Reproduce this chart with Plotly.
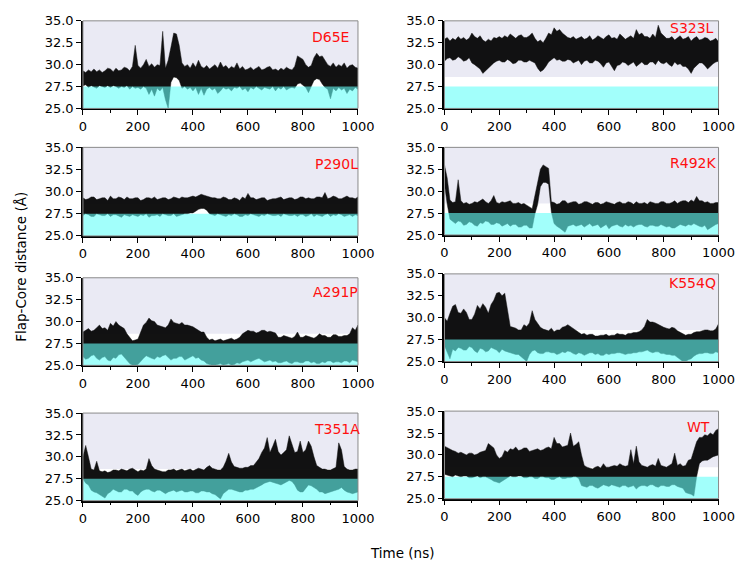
import plotly.graph_objects as go
from plotly.subplots import make_subplots

# ---- data (Flap-Core distance envelopes, sampled every 10 ns) ----
time_ns = list(range(0, 1001, 10))

d65e_hi = [29.3, 29.1, 29.4, 29.2, 29.5, 29.2, 29.4, 29.1, 29.3, 29.6,
           29.5, 29.2, 29.6, 29.3, 29.4, 29.7, 29.6, 29.3, 29.8, 32.2,
           29.9, 29.6, 30.0, 30.6, 29.8, 30.1, 29.7, 30.0, 29.9, 33.8,
           29.6, 30.5, 32.0, 33.6, 33.5, 32.2, 30.2, 29.8, 30.0, 29.6,
           30.2, 29.7, 30.5, 29.8, 29.6, 29.9, 29.5, 29.8, 30.0, 29.6,
           30.3, 29.7, 29.9, 29.5, 29.8, 29.6, 30.2, 29.5, 29.8, 29.4,
           29.5, 29.7, 29.4, 29.6, 29.8, 29.4, 29.5, 29.7, 29.8, 29.4,
           29.5, 29.3, 29.6, 29.4, 29.7, 29.5, 29.4, 29.8, 31.0, 30.8,
           30.6, 30.0, 29.7, 29.9, 30.8, 31.3, 30.9, 31.0, 30.5, 30.0,
           29.8, 30.2, 29.7, 30.0, 29.8, 30.2, 29.6, 29.9, 30.0, 29.7, 29.6]
d65e_lo = [27.6, 27.7, 27.4, 27.6, 27.5, 27.3, 27.6, 27.5, 27.4, 27.6,
           27.4, 27.6, 27.5, 27.3, 27.5, 27.4, 27.6, 27.2, 27.5, 27.3,
           27.4, 27.2, 27.5, 27.3, 26.6, 27.2, 26.4, 27.3, 27.0, 27.4,
           26.0, 25.0, 28.0, 28.6, 28.5, 28.2, 27.3, 27.5, 27.2, 27.4,
           27.0, 27.4, 26.6, 27.3, 26.5, 27.2, 27.4, 27.1, 27.3, 26.7,
           27.0, 27.4, 27.2, 27.3, 27.0, 27.4, 27.3, 27.5, 27.1, 27.3,
           26.9, 27.4, 27.2, 27.5, 27.3, 27.1, 27.4, 27.3, 27.2, 27.5,
           27.0, 27.4, 27.2, 27.5, 27.1, 27.3, 27.4, 27.3, 27.8, 27.9,
           27.6, 27.4, 26.8, 27.5, 28.2, 28.4, 28.3, 27.8, 27.4, 27.2,
           26.1, 27.3, 27.0, 27.4, 27.1, 27.3, 26.7, 27.2, 27.0, 27.4, 27.2]

s323l_hi = [32.9, 33.1, 32.7, 33.0, 32.8, 33.2, 32.9, 33.1, 32.8, 33.0,
            33.6, 33.2, 33.0, 33.3, 32.8, 32.6, 32.9, 32.7, 33.1, 33.0,
            33.2, 33.0, 33.3, 33.1, 33.5, 33.2, 33.0, 33.3, 33.4, 33.1,
            33.1, 33.3, 33.6, 33.0, 32.6, 32.8, 32.5, 33.0, 33.6, 33.4,
            34.2, 33.8, 34.0, 33.6, 33.3, 33.1, 33.0, 33.2, 32.9, 33.1,
            33.2, 32.9, 33.0, 33.3, 32.8, 33.0, 33.3, 33.1, 32.9, 33.2,
            33.4, 33.0, 33.1, 32.9, 33.5, 33.2, 32.9, 33.1, 33.3, 33.0,
            34.0, 33.4, 33.6, 33.2, 33.2, 33.0, 33.5, 33.1, 34.5, 33.6,
            33.3, 33.0, 33.0, 33.2, 32.8, 33.1, 33.3, 32.9, 33.0, 33.2,
            32.7, 33.0, 33.2, 32.8, 32.9, 33.1, 33.0, 32.7, 32.8, 33.0, 32.6]
s323l_lo = [30.4, 30.7, 30.8, 30.5, 30.6, 30.9, 30.7, 30.4, 30.5, 30.8,
            30.2, 30.0, 29.8, 29.5, 29.0, 29.3, 29.5, 29.9, 30.2, 30.4,
            30.5, 30.3, 30.3, 30.6, 30.4, 30.1, 30.2, 30.5, 30.5, 30.3,
            30.3, 30.5, 30.4, 30.2, 29.6, 29.2, 29.4, 29.8, 30.3, 30.6,
            30.8, 30.5, 30.6, 30.4, 30.4, 30.6, 30.5, 30.2, 30.3, 30.5,
            30.0, 30.4, 30.5, 30.2, 30.2, 30.5, 30.4, 30.1, 29.7, 30.2,
            30.3, 29.8, 29.3, 29.9, 30.0, 30.3, 30.2, 29.9, 30.1, 30.3,
            29.8, 30.1, 30.3, 30.0, 30.0, 30.3, 30.3, 30.0, 30.5, 30.2,
            30.1, 30.3, 30.0, 29.8, 30.3, 30.0, 30.1, 29.8, 29.8, 29.5,
            29.0, 29.6, 29.9, 30.2, 30.2, 29.9, 29.5, 29.8, 30.1, 30.3, 30.4]

p290l_hi = [29.3, 29.1, 29.2, 29.4, 29.4, 29.1, 29.2, 29.3, 29.3, 29.0,
            29.5, 29.2, 29.2, 29.4, 29.3, 29.1, 29.4, 29.2, 29.2, 29.3,
            29.3, 29.0, 29.1, 29.3, 29.3, 29.2, 29.4, 29.1, 29.2, 29.3,
            29.3, 29.1, 29.2, 29.4, 29.3, 29.2, 29.4, 29.3, 29.3, 29.4,
            29.5, 29.4, 29.6, 29.7, 29.6, 29.5, 29.4, 29.3, 29.3, 29.2,
            29.2, 29.4, 29.3, 29.1, 29.1, 29.3, 29.2, 29.0, 29.4, 29.2,
            29.8, 29.3, 29.3, 29.1, 29.2, 29.3, 29.3, 29.0, 29.1, 29.2,
            29.2, 29.3, 29.4, 29.1, 29.2, 29.3, 29.3, 29.1, 29.2, 29.4,
            29.4, 29.2, 29.3, 29.2, 29.2, 29.4, 29.4, 29.3, 29.9, 29.2,
            29.3, 29.5, 29.4, 29.2, 29.2, 29.4, 29.5, 29.3, 29.3, 29.2, 29.4]
p290l_lo = [27.3, 27.5, 27.4, 27.2, 27.2, 27.5, 27.4, 27.3, 27.3, 27.5,
            27.2, 27.4, 27.4, 27.3, 27.1, 27.4, 27.3, 27.2, 27.4, 27.3,
            27.2, 27.4, 27.3, 27.5, 27.1, 27.3, 27.3, 27.4, 27.2, 27.5,
            27.4, 27.3, 27.3, 27.5, 27.2, 27.3, 27.4, 27.5, 27.5, 27.6,
            27.6, 27.8, 28.0, 28.1, 28.1, 27.9, 27.5, 27.4, 27.3, 27.5,
            27.4, 27.3, 27.2, 27.4, 27.3, 27.5, 27.4, 27.2, 27.2, 27.4,
            27.3, 27.5, 27.4, 27.3, 27.2, 27.4, 27.3, 27.5, 27.4, 27.3,
            27.3, 27.4, 27.2, 27.5, 27.4, 27.3, 27.3, 27.4, 27.2, 27.4,
            27.4, 27.2, 27.3, 27.5, 27.2, 27.4, 27.3, 27.2, 27.4, 27.5,
            27.2, 27.4, 27.3, 27.5, 27.4, 27.2, 27.3, 27.4, 27.2, 27.4, 27.3]

r492k_hi = [33.0, 31.5, 29.0, 28.7, 28.8, 31.3, 28.9, 28.6, 28.7, 28.5,
            28.6, 28.8, 28.7, 28.9, 29.1, 28.8, 28.6, 28.9, 29.5, 28.7,
            28.6, 28.8, 28.7, 28.8, 28.9, 28.6, 28.6, 28.7, 28.5, 28.6,
            28.4, 28.2, 28.0, 29.5, 31.0, 32.5, 33.0, 32.8, 32.6, 28.8,
            28.7, 28.5, 28.6, 28.9, 28.9, 28.6, 28.7, 28.8, 28.8, 28.5,
            28.6, 28.8, 28.8, 28.6, 28.5, 28.7, 28.7, 28.5, 28.6, 28.8,
            28.7, 28.6, 28.5, 28.7, 28.8, 28.6, 28.6, 28.8, 28.7, 28.5,
            28.8, 28.6, 28.6, 28.7, 28.5, 28.8, 28.7, 28.6, 28.6, 28.8,
            28.8, 28.6, 28.6, 28.7, 28.9, 28.6, 28.8, 28.9, 28.9, 28.7,
            29.0, 28.8, 29.4, 28.9, 28.9, 28.7, 28.8, 28.6, 28.6, 28.7, 28.7]
r492k_lo = [30.8, 28.5, 26.8, 26.5, 26.3, 26.6, 26.5, 26.1, 26.2, 26.5,
            26.4, 26.1, 26.0, 26.4, 26.3, 26.6, 26.5, 26.2, 26.2, 26.4,
            26.3, 26.0, 26.1, 26.3, 26.0, 26.2, 26.2, 25.9, 25.9, 26.1,
            26.1, 25.8, 25.8, 27.4, 28.5, 30.5, 31.0, 31.0, 30.8, 27.6,
            26.3, 26.0, 25.8, 25.6, 25.3, 26.0, 26.1, 26.2, 26.0, 26.1,
            26.2, 25.9, 26.1, 26.3, 26.0, 26.1, 26.2, 25.8, 26.0, 26.2,
            25.7, 26.0, 26.1, 26.2, 26.0, 25.9, 26.2, 26.0, 26.1, 25.9,
            26.1, 26.2, 26.2, 26.0, 25.9, 26.1, 26.1, 26.0, 26.0, 26.2,
            26.1, 25.9, 26.0, 25.8, 25.8, 26.0, 26.2, 26.1, 26.0, 26.2,
            26.1, 26.3, 26.2, 26.0, 25.9, 26.1, 25.6, 25.8, 26.0, 26.2, 26.3]

a291p_hi = [28.8, 29.0, 29.2, 28.9, 29.0, 29.3, 29.6, 29.2, 29.3, 29.0,
            29.8, 29.5, 30.0, 29.6, 29.4, 29.2, 28.6, 28.2, 27.8, 27.9,
            28.0, 28.8, 29.6, 29.9, 30.4, 30.1, 30.0, 29.6, 29.5, 29.4,
            29.3, 29.6, 30.3, 29.9, 29.8, 29.7, 29.9, 29.6, 29.6, 29.5,
            29.4, 29.2, 29.0, 28.8, 28.8, 28.2, 27.9, 28.0, 27.8, 27.9,
            28.0, 27.8, 27.9, 28.0, 28.1, 27.9, 28.0, 28.2, 28.6, 28.8,
            29.0, 28.9, 28.9, 28.7, 28.8, 29.0, 29.0, 28.8, 28.9, 28.8,
            28.7, 28.2, 28.2, 28.4, 28.3, 28.2, 28.1, 28.3, 28.8, 28.2,
            28.2, 28.4, 28.3, 28.2, 28.1, 28.3, 28.6, 28.4, 28.4, 28.2,
            28.2, 28.5, 28.5, 28.3, 28.3, 28.4, 28.4, 28.6, 29.3, 29.0, 29.6]
a291p_lo = [26.0, 25.7, 25.8, 26.1, 26.2, 25.8, 25.6, 25.9, 26.0, 25.6,
            25.5, 25.9, 25.8, 26.2, 26.3, 26.0, 25.6, 25.2, 25.0, 25.0,
            25.1, 25.4, 25.8, 26.1, 26.0, 25.8, 25.7, 26.0, 25.9, 26.1,
            26.2, 25.9, 25.6, 25.8, 25.8, 26.0, 26.0, 25.6, 25.7, 25.9,
            26.1, 25.8, 25.9, 25.6, 25.5, 25.2, 25.1, 25.0, 25.0, 25.1,
            25.2, 25.0, 25.1, 25.2, 25.0, 25.1, 25.3, 25.2, 25.4, 25.5,
            25.6, 25.4, 25.5, 25.7, 25.8, 25.6, 25.4, 25.5, 25.6, 25.4,
            25.5, 25.3, 25.3, 25.4, 25.5, 25.3, 25.2, 25.4, 25.4, 25.3,
            25.3, 25.5, 25.5, 25.3, 25.4, 25.2, 25.2, 25.4, 25.3, 25.5,
            25.5, 25.3, 25.4, 25.4, 25.3, 25.5, 25.5, 25.3, 25.6, 25.5, 25.4]

k554q_hi = [30.0, 29.6, 30.5, 31.3, 31.5, 30.6, 30.5, 31.0, 30.6, 29.8,
            29.8, 30.4, 31.4, 31.0, 31.6, 31.2, 30.5, 31.5, 32.0, 32.8,
            32.9, 32.5, 32.8, 30.8, 29.0, 28.9, 28.8, 28.6, 28.6, 29.2,
            29.0, 29.4, 30.8, 29.8, 29.4, 28.9, 28.7, 28.6, 28.5, 28.8,
            28.4, 28.6, 28.6, 28.9, 29.0, 29.2, 29.0, 28.8, 28.5, 28.3,
            28.1, 28.2, 28.0, 28.1, 28.1, 27.9, 27.9, 28.0, 28.0, 28.1,
            27.9, 28.0, 28.0, 28.2, 28.1, 28.1, 28.0, 28.2, 28.2, 28.3,
            28.3, 28.4, 28.6, 29.0, 29.8, 29.5, 29.5, 29.4, 29.2, 29.0,
            28.9, 28.8, 28.7, 28.9, 28.8, 28.5, 28.3, 28.2, 28.0, 28.1,
            28.1, 28.3, 28.4, 28.4, 28.5, 28.6, 28.6, 28.5, 28.5, 28.7, 29.3]
k554q_lo = [26.8, 26.0, 25.3, 26.4, 26.2, 26.6, 26.5, 26.3, 26.3, 26.7,
            26.6, 26.2, 26.0, 26.5, 26.4, 26.1, 26.2, 26.6, 26.5, 26.3,
            26.0, 26.4, 26.2, 26.1, 26.0, 25.9, 25.8, 25.8, 25.6, 25.3,
            25.0, 25.8, 26.2, 26.3, 26.0, 25.9, 25.9, 26.1, 26.1, 26.0,
            26.0, 25.8, 25.9, 26.1, 26.0, 26.2, 26.1, 25.9, 25.8, 26.0,
            25.9, 25.7, 25.8, 26.0, 26.0, 25.8, 25.9, 25.7, 25.7, 25.9,
            25.8, 25.9, 25.9, 26.0, 26.0, 25.9, 25.8, 25.9, 25.9, 26.0,
            26.0, 26.1, 26.1, 26.2, 26.3, 26.1, 26.0, 26.1, 26.1, 25.9,
            25.9, 25.8, 25.8, 25.7, 25.7, 25.4, 25.2, 25.0, 25.0, 25.2,
            25.3, 25.6, 25.8, 25.9, 25.9, 26.0, 26.0, 25.9, 25.9, 26.1, 26.0]

t351a_hi = [30.0, 31.3, 30.0, 28.6, 28.5, 29.5, 28.4, 28.3, 28.4, 28.2,
            28.3, 28.5, 28.5, 28.4, 28.6, 28.5, 28.4, 28.6, 28.7, 28.5,
            28.3, 28.5, 28.4, 28.6, 29.8, 29.0, 28.6, 28.5, 28.4, 28.3,
            28.3, 28.5, 28.5, 28.6, 28.4, 28.5, 28.6, 28.4, 28.5, 28.6,
            28.4, 28.6, 28.7, 28.6, 28.5, 28.8, 29.0, 28.7, 28.6, 28.5,
            28.5, 28.8, 29.5, 30.4, 29.4, 28.9, 28.8, 28.7, 28.7, 28.8,
            28.8, 29.0, 29.0, 29.4, 29.8, 30.5, 31.0, 32.2, 30.5, 31.2,
            32.0, 30.6, 30.2, 30.5, 30.8, 32.4, 31.5, 30.5, 30.6, 31.8,
            30.5, 30.8, 31.8, 31.2, 30.0, 29.0, 28.8, 28.6, 28.6, 28.5,
            28.5, 28.7, 28.8, 31.6, 30.8, 28.9, 28.6, 28.5, 28.5, 28.6, 28.6]
t351a_lo = [27.5, 27.0, 26.8, 26.2, 26.0, 25.9, 25.8, 25.5, 25.3, 25.8,
            26.0, 26.3, 26.2, 26.0, 26.0, 26.3, 26.3, 26.1, 26.1, 25.8,
            25.6, 26.0, 26.2, 26.3, 26.3, 26.1, 26.0, 26.2, 26.2, 26.0,
            25.8, 26.0, 26.1, 26.2, 26.0, 26.1, 26.2, 26.0, 26.0, 26.1,
            26.1, 25.9, 25.9, 26.1, 26.1, 26.0, 26.0, 25.8, 25.7, 25.5,
            25.2, 25.8, 26.0, 26.3, 26.3, 26.2, 26.1, 26.0, 26.0, 26.2,
            26.2, 26.3, 26.3, 26.5, 26.6, 26.8, 27.0, 27.1, 27.2, 27.1,
            27.0, 26.9, 26.8, 27.0, 27.1, 27.3, 27.2, 26.8, 26.2, 26.0,
            26.0, 26.4, 26.8, 26.7, 26.5, 26.3, 26.0, 26.0, 25.8, 25.9,
            26.0, 26.1, 26.2, 26.3, 26.5, 26.2, 26.0, 25.9, 25.8, 25.9, 26.0]

wt_hi = [31.0, 30.8, 30.6, 30.5, 30.4, 30.2, 30.3, 30.1, 30.0, 30.2,
         30.2, 30.0, 30.1, 30.3, 30.4, 30.5, 31.3, 31.0, 30.8, 30.0,
         29.6, 29.8, 30.5, 30.3, 30.7, 30.6, 30.9, 30.5, 30.6, 30.8,
         30.8, 30.4, 30.5, 30.6, 30.7, 30.5, 30.6, 30.8, 30.9, 30.7,
         32.0, 31.3, 31.3, 30.9, 31.0, 31.1, 32.5, 31.0, 31.2, 31.5,
         30.0, 28.8, 28.6, 28.5, 28.4, 28.6, 28.7, 28.5, 29.0, 28.6,
         28.6, 28.7, 28.8, 28.7, 29.0, 28.8, 28.7, 28.8, 30.6, 29.0,
         31.0, 29.2, 28.8, 28.7, 28.6, 28.8, 28.9, 28.7, 29.6, 28.8,
         28.7, 28.6, 28.8, 29.0, 30.2, 28.8, 29.0, 28.7, 28.8, 29.4,
         29.5, 30.5, 31.5, 32.0, 32.0, 32.3, 32.2, 32.5, 32.3, 32.8, 33.0]
wt_lo = [27.8, 27.7, 27.6, 27.5, 27.7, 27.6, 27.5, 27.6, 27.6, 27.4,
         27.4, 27.5, 27.6, 27.4, 27.5, 27.5, 27.4, 27.2, 27.0, 26.9,
         26.8, 27.1, 27.2, 27.4, 27.6, 27.5, 27.5, 27.6, 27.6, 27.4,
         27.4, 27.5, 27.5, 27.3, 27.3, 27.5, 27.5, 27.4, 27.4, 27.2,
         27.2, 27.4, 27.5, 27.3, 27.3, 27.4, 27.4, 27.5, 27.5, 27.3,
         26.5, 26.4, 26.3, 26.5, 26.5, 26.3, 26.2, 26.4, 26.6, 26.5,
         26.4, 26.6, 26.5, 26.4, 26.3, 26.5, 26.5, 26.3, 26.4, 26.5,
         26.1, 26.4, 26.5, 26.5, 26.4, 26.6, 26.6, 26.4, 26.3, 26.5,
         26.5, 26.4, 26.4, 26.6, 26.6, 26.4, 26.3, 26.2, 25.7, 25.6,
         25.5, 25.3, 27.5, 29.0, 29.3, 29.4, 29.4, 29.6, 29.8, 29.9, 30.0]

panel_names = ["D65E", "S323L", "P290L", "R492K", "A291P", "K554Q", "T351A", "WT"]
panel_hi = [d65e_hi, s323l_hi, p290l_hi, r492k_hi, a291p_hi, k554q_hi, t351a_hi, wt_hi]
panel_lo = [d65e_lo, s323l_lo, p290l_lo, r492k_lo, a291p_lo, k554q_lo, t351a_lo, wt_lo]

y_ticks = [25.0, 27.5, 30.0, 32.5, 35.0]
x_ticks = [0, 200, 400, 600, 800, 1000]
x_minor = [100, 300, 500, 700, 900]

# ---- layout geometry (pixels of a 746x561 canvas) ----
W, H = 746, 561
col_x = [(73, 356), (445, 727)]
row_y = {  # (row, col): (top, bottom)
    (1, 1): (6, 96), (1, 2): (6, 96),
    (2, 1): (136, 227), (2, 2): (136, 226),
    (3, 1): (270, 360), (3, 2): (266, 356),
    (4, 1): (409, 499), (4, 2): (407, 497),
}
label_pos = [(349, 23), (724, 13), (358, 153), (726, 152),
             (358, 285), (726, 275), (360, 425), (720, 423)]

FONT = "DejaVu Sans"
LAVENDER = "#EAEAF4"

fig = make_subplots(rows=4, cols=2)

for i, name in enumerate(panel_names):
    r, c = i // 2 + 1, i % 2 + 1
    hi, lo = panel_hi[i], panel_lo[i]
    xs = time_ns + time_ns[::-1]
    ys = hi + lo[::-1]
    fig.add_trace(go.Scatter(x=xs, y=ys, mode="lines", fill="toself",
                             fillcolor="rgba(0,0,0,0.93)",
                             line=dict(color="rgba(20,20,20,0.8)", width=0.6),
                             hoverinfo="skip", showlegend=False), row=r, col=c)

    idx = "" if i == 0 else str(i + 1)
    xa, ya = "x" + idx, "y" + idx
    fig.add_shape(type="rect", xref=xa + " domain", yref=ya, x0=0, x1=1, y0=25, y1=28.6,
                  fillcolor="white", line_width=0, layer="below")
    fig.add_shape(type="rect", xref=xa + " domain", yref=ya, x0=0, x1=1, y0=25, y1=27.5,
                  fillcolor="rgb(100,255,248)", opacity=0.6, line_width=0, layer="above")
    fig.add_shape(type="rect", xref=xa + " domain", yref=ya + " domain", x0=0, x1=1, y0=0, y1=1,
                  line=dict(color="#8a8a8a", width=1), fillcolor="rgba(0,0,0,0)", layer="above")

    x0, x1 = col_x[c - 1]
    top, bot = row_y[(r, c)]
    fig.update_xaxes(domain=[x0 / W, x1 / W], range=[0, 1000], tickvals=x_ticks,
                     ticks="outside", ticklen=5, tickwidth=1.2, tickcolor="black",
                     showline=True, linecolor="black", linewidth=1.5,
                     showgrid=False, zeroline=False,
                     minor=dict(tickvals=x_minor, ticks="outside",
                                ticklen=3, tickwidth=1.2, tickcolor="black"),
                     tickfont=dict(family=FONT, size=13, color="black"),
                     row=r, col=c)
    fig.update_yaxes(domain=[1 - bot / H, 1 - top / H], range=[25, 35], tickvals=y_ticks,
                     tickformat=".1f", ticks="outside", ticklen=5, tickwidth=1.2,
                     tickcolor="black", showline=True, linecolor="black", linewidth=1.5,
                     showgrid=False, zeroline=False,
                     tickfont=dict(family=FONT, size=13, color="black"),
                     row=r, col=c)

    lx, ly = label_pos[i]
    fig.add_annotation(text=name, xref="paper", yref="paper", x=lx / W, y=1 - ly / H,
                       xanchor="right", yanchor="middle", showarrow=False,
                       font=dict(family=FONT, size=14, color="#FF1010"))

fig.add_annotation(text="Time (ns)", xref="paper", yref="paper", x=401 / W, y=1 - 553 / H,
                   xanchor="center", yanchor="middle", showarrow=False,
                   font=dict(family=FONT, size=13.5, color="black"))
fig.add_annotation(text="Flap-Core distance (Å)", xref="paper", yref="paper", x=9 / W,
                   y=1 - 259 / H, xanchor="center", yanchor="middle", textangle=-90,
                   showarrow=False, font=dict(family=FONT, size=13.5, color="black"))

fig.update_layout(width=W, height=H, margin=dict(l=0, r=0, t=0, b=0),
                  paper_bgcolor="white", plot_bgcolor=LAVENDER, showlegend=False)

fig.write_html("out.html")
